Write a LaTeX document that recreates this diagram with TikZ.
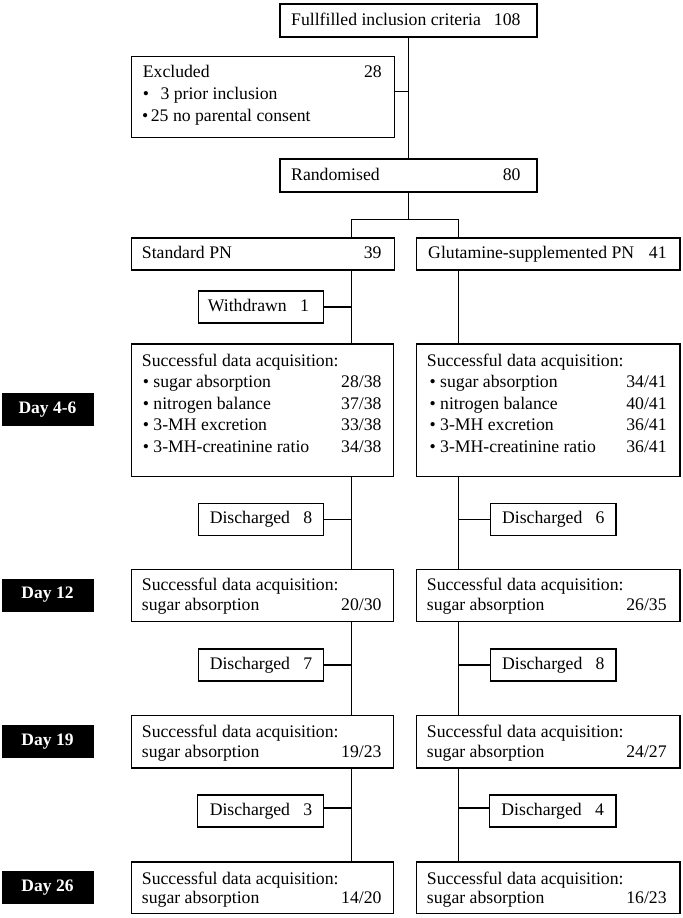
\documentclass[tikz,border=0pt]{standalone}
\usepackage{fontspec}
\setmainfont{Liberation Serif}
\newcommand\bx[5]{\node[box, minimum width={(#4-#2)*1.305pt}, minimum height={(#5-#3)*1pt}] (#1) at ({(#2+#4)/2},{(#3+#5)/2}) {};}
\begin{document}
\begin{tikzpicture}[x=1.305pt,y=-1pt,
  box/.style={draw, line width=1.2pt, inner sep=0pt, outer sep=0pt},
  txt/.style={inner sep=0pt, font=\fontsize{17.7}{20}\selectfont, text height=12pt, text depth=4pt},
  L/.style={txt, anchor=west},
  R/.style={txt, anchor=east},
  C/.style={txt, anchor=center},
  daybox/.style={fill=black, draw=black, text=white, inner sep=0pt,
    font=\bfseries\fontsize{17.5}{20}\selectfont, minimum width=91.6pt, minimum height=32pt},
  link/.style={line width=1.1pt}]
\useasboundingbox (0,0) rectangle (523.37,918);
% top
\bx{top}{214.5}{4}{411.5}{37}
\node[L] (topL) at (223,21) {Fullfilled inclusion criteria};
\node[R] (topR) at (399,21) {108};
\bx{exc}{100.5}{56.5}{302}{137.5}
\node[L] (excL) at (109.3,73) {Excluded};
\node[R] (excR) at (292.7,73) {28};
\node[L] (exc1) at (109.3,95.5) {•\hspace{0.65em}3 prior inclusion};
\node[L] (exc2) at (108.8,117) {•\hspace{2.5pt}25 no parental consent};
\bx{rand}{214.5}{159}{411.5}{192}
\node[L] (randL) at (223,176) {Randomised};
\node[R] (randR) at (399,176) {80};
\bx{std}{100.5}{238}{302}{270}
\node[L] (stdL) at (108.6,254) {Standard PN};
\node[R] (stdR) at (292.5,254) {39};
\bx{glu}{319}{238}{521}{270}
\node[L] (gluL) at (328,254) {Glutamine-supplemented PN};
\node[R] (gluR) at (511,254) {41};
\bx{wd}{152.2}{291}{248}{323}
\node[C] (wdT) at (198,307) {Withdrawn\hspace{0.75em}1};
% day 4-6
\bx{sL1}{100.5}{344}{301.5}{476.5}
\node[L] (sL1a) at (108.6,362.5) {Successful data acquisition:};
\node[L] (sL1b) at (109.3,383) {• sugar absorption};
\node[L] (sL1c) at (109.3,405) {• nitrogen balance};
\node[L] (sL1d) at (109.3,426.7) {• 3-MH excretion};
\node[L] (sL1e) at (109.3,448.3) {• 3-MH-creatinine ratio};
\node[R] (sL1bn) at (292.5,383) {28/38};
\node[R] (sL1cn) at (292.5,405) {37/38};
\node[R] (sL1dn) at (292.5,426.7) {33/38};
\node[R] (sL1en) at (292.5,448.3) {34/38};
\bx{sR1}{319}{344}{521}{476.5}
\node[L] (sR1a) at (327,362.5) {Successful data acquisition:};
\node[L] (sR1b) at (329,383) {• sugar absorption};
\node[L] (sR1c) at (329,405) {• nitrogen balance};
\node[L] (sR1d) at (329,426.7) {• 3-MH excretion};
\node[L] (sR1e) at (329,448.3) {• 3-MH-creatinine ratio};
\node[R] (sR1bn) at (511,383) {34/41};
\node[R] (sR1cn) at (511,405) {40/41};
\node[R] (sR1dn) at (511,426.7) {36/41};
\node[R] (sR1en) at (511,448.3) {36/41};
\bx{dL1}{152}{503.5}{248}{535.5}
\node[C] (dL1T) at (200,519.5) {Discharged\hspace{0.75em}8};
\bx{dR1}{376}{503.5}{472}{535.5}
\node[C] (dR1T) at (424,519.5) {Discharged\hspace{0.75em}6};
% day 12
\bx{sL2}{100.5}{569.5}{301.5}{621.5}
\node[L] (sL2a) at (108.6,586.7) {Successful data acquisition:};
\node[L] (sL2b) at (108.6,606.7) {sugar absorption};
\node[R] (sL2n) at (292.5,606.7) {20/30};
\bx{sR2}{319}{569.5}{521}{621.5}
\node[L] (sR2a) at (327,586.7) {Successful data acquisition:};
\node[L] (sR2b) at (327,606.7) {sugar absorption};
\node[R] (sR2n) at (511,606.7) {26/35};
\bx{dL2}{152}{649}{248}{681}
\node[C] (dL2T) at (200,665) {Discharged\hspace{0.75em}7};
\bx{dR2}{376}{649}{472}{681}
\node[C] (dR2T) at (424,665) {Discharged\hspace{0.75em}8};
% day 19
\bx{sL3}{100.5}{715.5}{301.5}{768}
\node[L] (sL3a) at (108.6,733.3) {Successful data acquisition:};
\node[L] (sL3b) at (108.6,753.3) {sugar absorption};
\node[R] (sL3n) at (292.5,753.3) {19/23};
\bx{sR3}{319}{715.5}{521}{768}
\node[L] (sR3a) at (327,733.3) {Successful data acquisition:};
\node[L] (sR3b) at (327,753.3) {sugar absorption};
\node[R] (sR3n) at (511,753.3) {24/27};
\bx{dL3}{151.5}{795}{248}{827}
\node[C] (dL3T) at (200,811) {Discharged\hspace{0.75em}3};
\bx{dR3}{375}{795}{472}{827}
\node[C] (dR3T) at (423.5,811) {Discharged\hspace{0.75em}4};
% day 26
\bx{sL4}{100.5}{862}{301.5}{913.5}
\node[L] (sL4a) at (108.6,880) {Successful data acquisition:};
\node[L] (sL4b) at (108.6,899) {sugar absorption};
\node[R] (sL4n) at (292.5,899) {14/20};
\bx{sR4}{319}{862}{521}{913.5}
\node[L] (sR4a) at (327,880) {Successful data acquisition:};
\node[L] (sR4b) at (327,899) {sugar absorption};
\node[R] (sR4n) at (511,899) {16/23};
% day labels
\node[daybox] (day1) at (36.4,409.5) {Day 4-6};
\node[daybox] (day2) at (36.4,595) {Day 12};
\node[daybox] (day3) at (36.4,741.2) {Day 19};
\node[daybox] (day4) at (36.4,887.5) {Day 26};
% connectors
\coordinate (cL) at (269.35,0);
\coordinate (cR) at (351.34,0);
\coordinate (jx) at (313,91.5);
\coordinate (sp) at (313,219.5);
\draw[link] (top.south) -- (rand.north);
\draw[link] (exc.east |- jx) -- (jx);
\draw[link] (rand.south) -- (rand.south |- sp);
\draw[link] (cL |- std.north) -- (cL |- sp) -- (cR |- sp) -- (cR |- glu.north);
\draw[link] (cL |- std.south) -- (cL |- sL1.north);
\draw[link] (cR |- glu.south) -- (cR |- sR1.north);
\draw[link] (wd.east) -- (wd.east -| cL);
\draw[link] (cL |- sL1.south) -- (cL |- sL2.north);
\draw[link] (cR |- sR1.south) -- (cR |- sR2.north);
\draw[link] (dL1.east) -- (dL1.east -| cL);
\draw[link] (dR1.west) -- (dR1.west -| cR);
\draw[link] (cL |- sL2.south) -- (cL |- sL3.north);
\draw[link] (cR |- sR2.south) -- (cR |- sR3.north);
\draw[link] (dL2.east) -- (dL2.east -| cL);
\draw[link] (dR2.west) -- (dR2.west -| cR);
\draw[link] (cL |- sL3.south) -- (cL |- sL4.north);
\draw[link] (cR |- sR3.south) -- (cR |- sR4.north);
\draw[link] ([yshift=3pt]dL3.east) -- ([yshift=3pt]dL3.east -| cL);
\draw[link] ([yshift=3pt]dR3.west) -- ([yshift=3pt]dR3.west -| cR);
\end{tikzpicture}
\end{document}
